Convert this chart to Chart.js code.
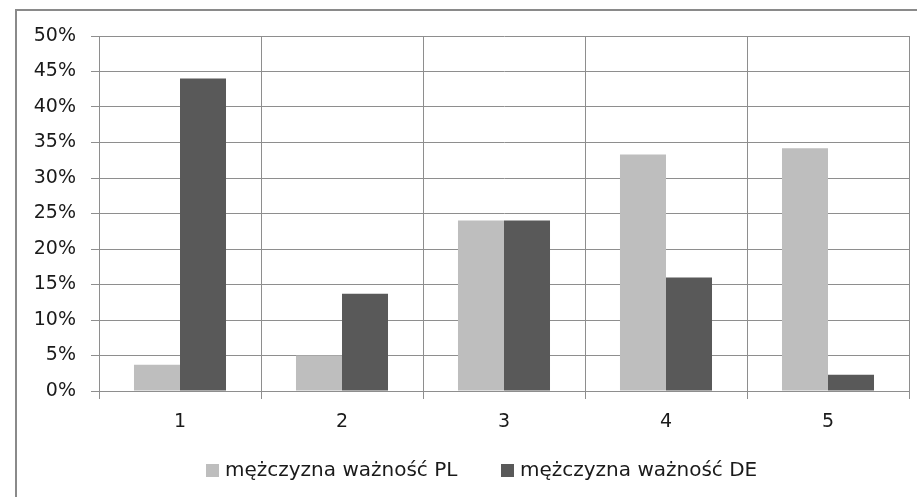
<!DOCTYPE html>
<html>
<head>
<meta charset="utf-8">
<script src="https://cdn.jsdelivr.net/npm/chart.js@4"></script>
<style>
    html, body { margin: 0; padding: 0; background: #fff; overflow: hidden; }
    #wrap { position: relative; width: 917px; height: 497px; }
    #frame { position: absolute; left: 15px; top: 9px; width: 1000px; height: 600px; border: 2px solid #8a8a8a; }
    canvas { position: absolute; left: 0; top: 0; }
    .legend-item { position: absolute; top: 457px; height: 24px; line-height: 24px; white-space: nowrap;
        font-family: "DejaVu Sans", sans-serif; font-size: 20px; color: #1a1a1a; }
    .legend-item span.box { display: inline-block; width: 13px; height: 13px; margin-right: 6px; vertical-align: -1px; }
</style>
</head>
<body>
<div id="wrap">
    <div id="frame"></div>
    <canvas id="chart" width="917" height="497"></canvas>
    <div id="legend"></div>
</div>
<script>
    // categories and series (percent)
    var categories = ['1', '2', '3', '4', '5'];
    var plValues = [3.7, 5.0, 24.0, 33.3, 34.2];
    var deValues = [44.0, 13.7, 24.0, 16.0, 2.3];
    var seriesNames = ['mężczyzna ważność PL', 'mężczyzna ważność DE'];
    var seriesColors = ['#bebebe', '#595959'];
    var yTicks = [0, 5, 10, 15, 20, 25, 30, 35, 40, 45, 50];

    var gridColor = '#8e8e8e';
    var fontSpec = { family: '"DejaVu Sans", sans-serif', size: 19 };

    Chart.defaults.color = '#1a1a1a';

    var chart = new Chart(document.getElementById('chart'), {
        type: 'bar',
        data: {
            labels: categories,
            datasets: seriesNames.map(function (name, i) {
                return {
                    label: name,
                    data: i == 0 ? plValues : deValues,
                    backgroundColor: seriesColors[i],
                    borderWidth: 0,
                    categoryPercentage: 0.568,
                    barPercentage: 1
                };
            })
        },
        options: {
            responsive: false,
            animation: false,
            layout: { padding: { left: 0, right: 8, top: 36, bottom: 60 } },
            scales: {
                x: {
                    offset: true,
                    grid: { offset: true, color: gridColor, lineWidth: 1, tickLength: 8 },
                    border: { color: gridColor },
                    ticks: { font: fontSpec, padding: 12 },
                    afterFit: function (scale) { scale.height = 46; }
                },
                y: {
                    min: 0,
                    max: 50,
                    afterBuildTicks: function (scale) {
                        scale.ticks = yTicks.map(function (v) { return { value: v }; });
                    },
                    grid: { color: gridColor, lineWidth: 1, tickLength: 8 },
                    border: { color: gridColor },
                    ticks: {
                        font: fontSpec,
                        padding: 15,
                        callback: function (v) { return v + '%'; }
                    },
                    afterFit: function (scale) { scale.width = 99; }
                }
            },
            plugins: {
                legend: { display: false },
                tooltip: { enabled: false }
            }
        }
    });

    // html legend under the plot
    var legendLeft = [206, 501];
    var legend = document.getElementById('legend');
    chart.data.datasets.forEach(function (ds, i) {
        var item = document.createElement('div');
        item.className = 'legend-item';
        item.style.left = legendLeft[i] + 'px';
        var box = document.createElement('span');
        box.className = 'box';
        box.style.background = ds.backgroundColor;
        item.appendChild(box);
        item.appendChild(document.createTextNode(ds.label));
        legend.appendChild(item);
    });
</script>
</body>
</html>
